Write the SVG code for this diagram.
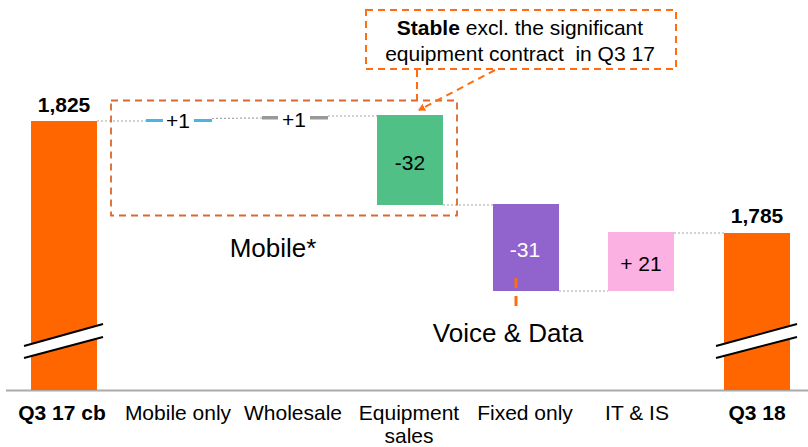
<svg xmlns="http://www.w3.org/2000/svg" width="808" height="447" viewBox="0 0 808 447">
<style>
text{font-family:"Liberation Sans",Arial,sans-serif;fill:#000}
.lbl{font-size:21px;text-anchor:middle}
.b{font-weight:bold}
.big{font-size:26px;text-anchor:middle}
.val{font-size:21px;text-anchor:middle}
.dot{stroke:#a6a6a6;stroke-width:1.2;stroke-dasharray:2 2;fill:none}
.brk{stroke:#000;stroke-width:2}
.co{stroke:#ff6d10;stroke-width:2;stroke-dasharray:7 5;fill:none}
</style>
<defs>
<marker id="ah" markerWidth="8" markerHeight="8" refX="6" refY="4" orient="auto" markerUnits="userSpaceOnUse">
<path d="M0,0 L7,4 L0,8 Z" fill="#ff6d10"/>
</marker>
</defs>
<line x1="6" y1="390.5" x2="808" y2="390.5" stroke="#aaaaaa" stroke-width="2"/>
<g id="connectors">
<line class="dot" x1="97" y1="121" x2="146" y2="121"/>
<line class="dot" x1="212" y1="118.5" x2="262" y2="118"/>
<line class="dot" x1="328" y1="116" x2="377" y2="116"/>
<line class="dot" x1="443" y1="205" x2="493" y2="205"/>
<line class="dot" x1="559" y1="291" x2="608" y2="291"/>
<line class="dot" x1="674" y1="233" x2="724" y2="233"/>
</g>
<g id="q317">
<rect x="31" y="121" width="66" height="269" fill="#ff6600"/>
<polygon points="24,346 103,324 103,337 24,358" fill="#fff"/>
<line class="brk" x1="24" y1="346" x2="103" y2="324"/>
<line class="brk" x1="24" y1="358" x2="103" y2="337"/>
<text class="val b" x="64" y="112">1,825</text>
</g>
<g id="mobile-only">
<rect x="146" y="119" width="17" height="3" fill="#4bb4e6"/>
<rect x="194" y="119" width="18" height="3" fill="#4bb4e6"/>
<text class="val" x="178" y="128">+1</text>
</g>
<g id="wholesale">
<rect x="262" y="116" width="16" height="3.5" fill="#999"/>
<rect x="310" y="116" width="18" height="3.5" fill="#999"/>
<text class="val" x="294" y="127">+1</text>
</g>
<g id="equipment">
<rect x="377" y="115" width="66" height="90" fill="#50c087"/>
<text class="val" x="410" y="170">-32</text>
</g>
<g id="fixed">
<rect x="493" y="204" width="66" height="87" fill="#9063cd"/>
<text class="val" x="525" y="257" style="fill:#fff">-31</text>
</g>
<g id="itis">
<rect x="608" y="232" width="66" height="59" fill="#fcb1e3"/>
<text class="val" x="641" y="271">+ 21</text>
</g>
<g id="q318">
<rect x="724" y="233" width="66" height="157" fill="#ff6600"/>
<polygon points="716,346 797,324 797,337 716,358" fill="#fff"/>
<line class="brk" x1="716" y1="346" x2="797" y2="324"/>
<line class="brk" x1="716" y1="358" x2="797" y2="337"/>
<text class="val b" x="757" y="223">1,785</text>
</g>
<g id="mobile-group">
<rect x="111" y="100.5" width="346" height="115" fill="none" stroke="#d9692e" stroke-width="1.8" stroke-dasharray="7 5"/>
<text class="big" x="273" y="257">Mobile*</text>
</g>
<g id="voice-data">
<line x1="516" y1="278" x2="516" y2="307" stroke="#ff6d10" stroke-width="3" stroke-dasharray="10 8"/>
<text class="big" x="508" y="342">Voice &amp; Data</text>
</g>
<g id="callout">
<rect x="366" y="10" width="310" height="59" class="co"/>
<line class="co" x1="417" y1="70" x2="417" y2="100"/>
<line class="co" x1="495" y1="70" x2="419" y2="110" marker-end="url(#ah)"/>
<text x="520" y="35" style="font-size:21px;text-anchor:middle"><tspan style="font-weight:bold">Stable</tspan> excl. the significant</text>
<text x="520" y="61" style="font-size:21px;text-anchor:middle;white-space:pre" xml:space="preserve">equipment contract  in Q3 17</text>
</g>
<g id="axis-labels">
<text class="lbl b" x="62" y="420">Q3 17 cb</text>
<text class="lbl" x="178" y="420">Mobile only</text>
<text class="lbl" x="293" y="420">Wholesale</text>
<text class="lbl" x="409" y="420">Equipment</text>
<text class="lbl" x="409" y="443">sales</text>
<text class="lbl" x="525" y="420">Fixed only</text>
<text class="lbl" x="637" y="420">IT &amp; IS</text>
<text class="lbl b" x="757" y="420">Q3 18</text>
</g>
</svg>
